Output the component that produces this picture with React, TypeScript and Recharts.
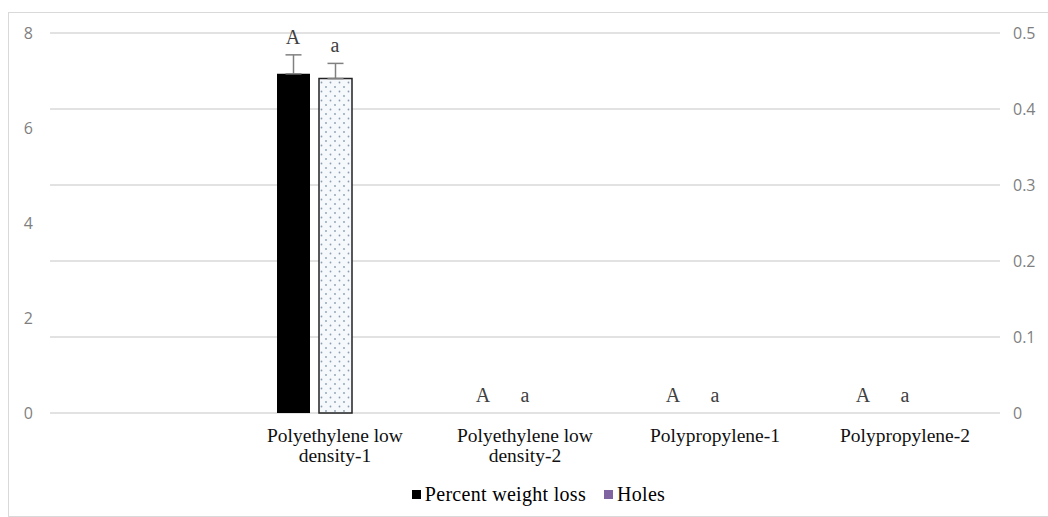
import { ComposedChart, Bar, Scatter, XAxis, YAxis, CartesianGrid, ErrorBar, Legend } from 'recharts';

// first slot is left empty in the original figure
const categories = ['', 'Polyethylene low density-1', 'Polyethylene low density-2', 'Polypropylene-1', 'Polypropylene-2'];
const weightLoss = [null, 7.14, 0, 0, 0];
const weightLossErr = [null, 0.4, 0, 0, 0];
const weightLetters = [null, 'A', 'A', 'A', 'A'];
const holes = [null, 0.44, 0, 0, 0];
const holesErr = [null, 0.02, 0, 0, 0];
const holesLetters = [null, 'a', 'a', 'a', 'a'];
const leftTicks = [0, 2, 4, 6, 8];
const rightTicks = [0, 0.1, 0.2, 0.3, 0.4, 0.5];

const BAR_SIZE = 33;
const BAR_GAP = 9;

const data = categories.map((name, i) => ({
  name,
  weight: weightLoss[i],
  weightErr: weightLossErr[i] == null ? null : [0, weightLossErr[i]],
  weightTop: weightLoss[i] == null ? null : weightLoss[i]! + (weightLossErr[i] || 0),
  weightLetter: weightLetters[i],
  holes: holes[i],
  holesErr: holesErr[i] == null ? null : [0, holesErr[i]],
  holesTop: holes[i] == null ? null : holes[i]! + (holesErr[i] || 0),
  holesLetter: holesLetters[i],
  spacer: null,
}));

const serif = '"Liberation Serif", "Times New Roman", serif';
const sans = '"Open Sans", "Liberation Sans", sans-serif';

// letters sit above the error bar; shift = distance from category centre to the bar centre
function letterShape(key: 'weightLetter' | 'holesLetter', shift: number) {
  return (props: any) => {
    const { cx, cy, payload } = props;
    const letter = payload && payload[key];
    if (!letter || cx == null || cy == null) return <g />;
    return (
      <text x={cx + shift} y={cy - 11} textAnchor="middle" fontFamily={serif} fontSize={20} fill="#404040">
        {letter}
      </text>
    );
  };
}

function CategoryTick(props: any) {
  const { x, y, payload } = props;
  const words = String(payload.value).split(' ');
  const lines = words.length > 2 ? [words.slice(0, -1).join(' '), words[words.length - 1]] : [payload.value];
  return (
    <text x={x} y={y} textAnchor="middle" fontFamily={serif} fontSize={19.5} fill="#111">
      {lines.map((l: string, i: number) => (
        <tspan key={i} x={x} dy={i === 0 ? 21 : 20}>
          {l}
        </tspan>
      ))}
    </text>
  );
}

function LegendBox() {
  const items = [
    { label: 'Percent weight loss', color: '#000000' },
    { label: 'Holes', color: '#8064a2' },
  ];
  return (
    <div style={{ display: 'flex', justifyContent: 'center', alignItems: 'center', height: 30, gap: 18, paddingLeft: 20 }}>
      {items.map((it) => (
        <div key={it.label} style={{ display: 'flex', alignItems: 'center', gap: 4 }}>
          <span style={{ width: 9, height: 9, background: it.color, display: 'inline-block' }} />
          <span style={{ fontFamily: serif, fontSize: 20, color: '#000', letterSpacing: 0.3 }}>{it.label}</span>
        </div>
      ))}
    </div>
  );
}

export default function App() {
  return (
    <div
      style={{
        position: 'absolute',
        left: 8,
        top: 12,
        width: 1040,
        height: 505,
        boxSizing: 'border-box',
        border: '1px solid #d9d9d9',
        borderRight: 'none',
        background: '#fff',
      }}
    >
      <ComposedChart
        width={1039}
        height={503}
        data={data}
        margin={{ top: 20, right: 0, bottom: 7, left: 0 }}
        barGap={BAR_GAP}
      >
        <defs>
          <pattern id="dots" width="9" height="9" patternUnits="userSpaceOnUse">
            <rect width="9" height="9" fill="#f6f9fc" />
            <circle cx="2" cy="2" r="0.9" fill="#8a9db3" />
            <circle cx="6.5" cy="6.5" r="0.9" fill="#8a9db3" />
          </pattern>
        </defs>
        <CartesianGrid vertical={false} yAxisId="right" stroke="#d9d9d9" strokeWidth={1.5} />
        <XAxis dataKey="name" axisLine={false} tickLine={false} height={66} tick={<CategoryTick />} interval={0} />
        <YAxis
          yAxisId="left"
          orientation="left"
          domain={[0, 8]}
          ticks={leftTicks}
          width={41}
          axisLine={false}
          tickLine={false}
          tickMargin={11}
          tick={{ fill: '#7f7f7f', fontSize: 16, fontFamily: sans }}
        />
        <YAxis
          yAxisId="right"
          orientation="right"
          domain={[0, 0.5]}
          ticks={rightTicks}
          width={48}
          axisLine={false}
          tickLine={false}
          tickMargin={7}
          tick={{ fill: '#7f7f7f', fontSize: 16, fontFamily: sans, textAnchor: 'start' }}
        />
        <Legend verticalAlign="bottom" content={<LegendBox />} wrapperStyle={{ height: 30 }} />
        <Bar yAxisId="left" dataKey="weight" name="Percent weight loss" fill="#000" barSize={BAR_SIZE} isAnimationActive={false}>
          <ErrorBar dataKey="weightErr" direction="y" width={8} stroke="#808080" strokeWidth={1.5} />
        </Bar>
        <Bar
          yAxisId="right"
          dataKey="holes"
          name="Holes"
          fill="url(#dots)"
          stroke="#222"
          strokeWidth={1.5}
          barSize={BAR_SIZE}
          isAnimationActive={false}
        >
          <ErrorBar dataKey="holesErr" direction="y" width={8} stroke="#808080" strokeWidth={1.5} />
        </Bar>
        {/* empty third slot keeps the bars left of the category centre, as in the source */}
        <Bar yAxisId="left" dataKey="spacer" legendType="none" fill="none" barSize={BAR_SIZE} isAnimationActive={false} />
        <Scatter
          yAxisId="left"
          dataKey="weightTop"
          legendType="none"
          shape={letterShape('weightLetter', -(BAR_SIZE + BAR_GAP))}
          isAnimationActive={false}
        />
        <Scatter
          yAxisId="right"
          dataKey="holesTop"
          legendType="none"
          shape={letterShape('holesLetter', 0)}
          isAnimationActive={false}
        />
      </ComposedChart>
    </div>
  );
}
